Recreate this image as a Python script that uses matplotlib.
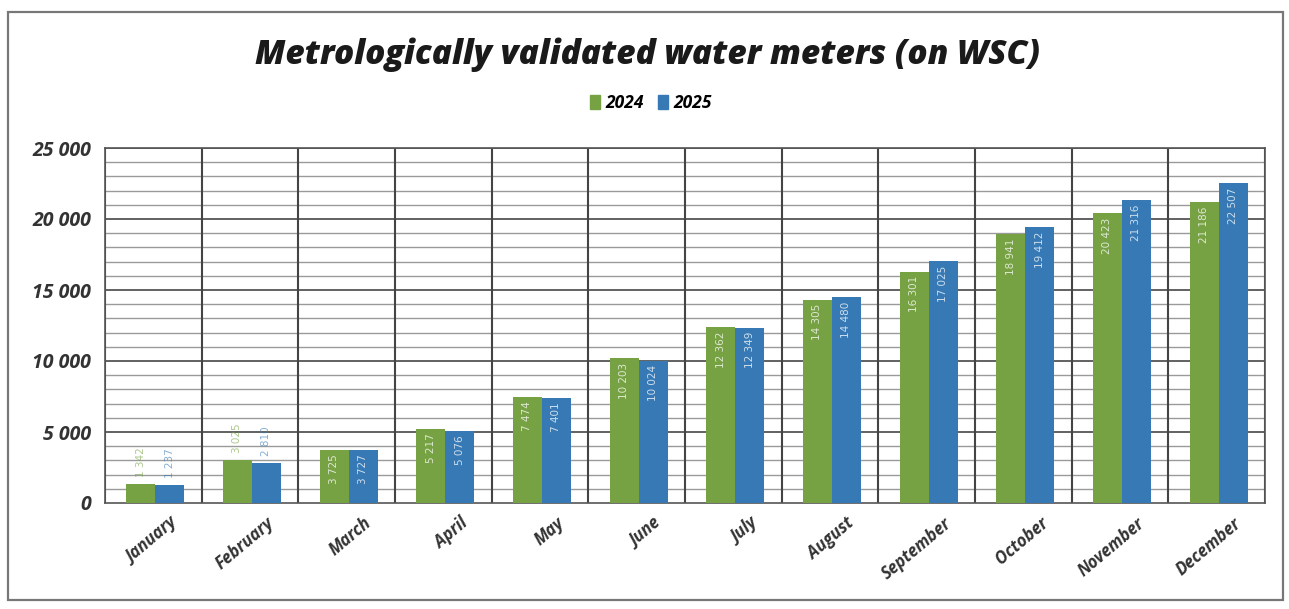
import matplotlib
matplotlib.use("Agg")
import matplotlib.pyplot as plt
import numpy as np
from matplotlib.patches import Rectangle

months = ["January", "February", "March", "April", "May", "June", "July",
          "August", "September", "October", "November", "December"]
series_names = ["2024", "2025"]
values_2024 = [1342, 3025, 3725, 5217, 7474, 10203, 12362, 14305, 16301, 18941, 20423, 21186]
values_2025 = [1237, 2810, 3727, 5076, 7401, 10024, 12349, 14480, 17025, 19412, 21316, 22507]
yticks = [0, 5000, 10000, 15000, 20000, 25000]
ytick_labels = ["0", "5 000", "10 000", "15 000", "20 000", "25 000"]
title = "Metrologically validated water meters (on WSC)"

green = "#77a244"
blue = "#3679b5"

W, H = 1289, 609
fig = plt.figure(figsize=(W / 100, H / 100), dpi=100)
fig.patch.set_facecolor("white")

# outer frame of the scanned chart
fig.patches.append(Rectangle((8 / W, 1 - 600 / H), (1283 - 8) / W, (600 - 12) / H,
                             transform=fig.transFigure, fill=False,
                             edgecolor="#777777", linewidth=1.6))

ax = fig.add_axes([105 / W, 1 - 503 / H, (1265 - 105) / W, (503 - 148) / H])
x = np.arange(len(months))
bw = 0.30
b1 = ax.bar(x - bw / 2 + 0.02, values_2024, bw, color=green, zorder=3, label=series_names[0])
b2 = ax.bar(x + bw / 2 + 0.02, values_2025, bw, color=blue, zorder=3, label=series_names[1])

ax.set_xlim(-0.5, len(months) - 0.5)
ax.set_ylim(0, 25000)

# grid
for v in range(1000, 25001, 1000):
    major = v % 5000 == 0
    ax.axhline(v, color="#555555" if major else "#9a9a9a",
               lw=1.3 if major else 1.0, zorder=1)
for i in range(len(months) + 1):
    ax.axvline(i - 0.5, color="#444444", lw=1.5, zorder=2)

for s in ax.spines.values():
    s.set_color("#555555")
    s.set_linewidth(1.2)

tick_font = dict(fontweight="bold", style="italic", color="#333333", family="Open Sans")
ax.set_yticks(yticks)
ax.set_yticklabels(ytick_labels, fontsize=14, **tick_font)
ax.tick_params(axis="y", length=0, pad=10)
ax.set_xticks(x + 0.17)
ax.set_xticklabels(months, rotation=40, ha="right", rotation_mode="anchor",
                   fontsize=12, **tick_font)
ax.tick_params(axis="x", length=0, pad=8)

def fmt(v):
    return f"{v:,}".replace(",", " ")

for bars, vals, col in ((b1, values_2024, green), (b2, values_2025, blue)):
    for rect, v in zip(bars, vals):
        cx = rect.get_x() + rect.get_width() / 2
        if v < 3500:
            ax.text(cx, v + 500, fmt(v), rotation=90, ha="center", va="bottom",
                    fontsize=7.5, color=col, alpha=0.6, zorder=4)
        else:
            ax.text(cx, v - 300, fmt(v), rotation=90, ha="center", va="top",
                    fontsize=7.5, color="white", alpha=0.75, zorder=4)

fig.text(0.502, 1 - 55 / H, title, ha="center", va="center", fontsize=24,
         fontweight="heavy", style="italic", color="#1a1a1a", family="Open Sans")

handles = [Rectangle((0, 0), 1, 1, color=green), Rectangle((0, 0), 1, 1, color=blue)]
fig.legend(handles, series_names, loc="center", bbox_to_anchor=(0.505, 1 - 103 / H),
           ncol=2, frameon=False, handlelength=0.6, handleheight=0.8,
           columnspacing=0.8, handletextpad=0.3,
           prop={"family": "Open Sans", "weight": "bold", "style": "italic", "size": 12.5})

fig.savefig("out.png", dpi=100)
